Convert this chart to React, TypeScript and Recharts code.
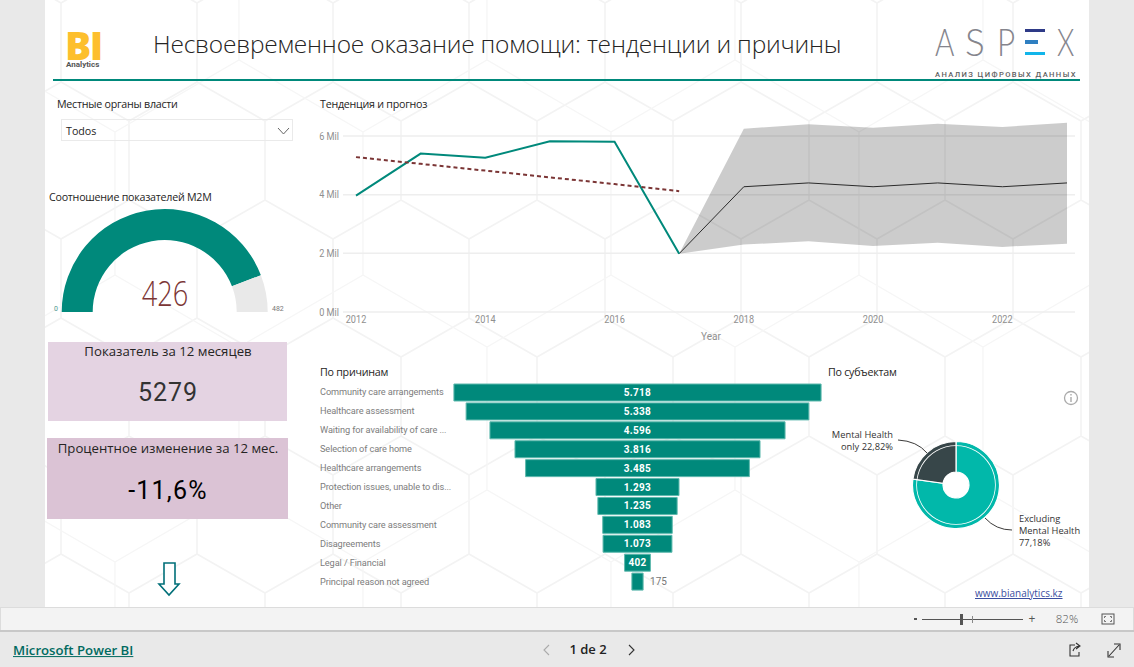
import React from "react"
import {
  Area,
  Bar,
  BarChart,
  CartesianGrid,
  Cell,
  ComposedChart,
  LabelList,
  Line,
  Pie,
  PieChart,
  XAxis,
  YAxis,
} from "recharts"

// trend chart, values in millions
const years = [2012, 2013, 2014, 2015, 2016, 2017, 2018, 2019, 2020, 2021, 2022, 2023]
const actual = [3.97, 5.4, 5.26, 5.82, 5.8, 1.99, null, null, null, null, null, null]
const trend = [5.28, 5.05, 4.82, 4.59, 4.36, 4.12, null, null, null, null, null, null]
const forecast = [null, null, null, null, null, 1.99, 4.27, 4.4, 4.27, 4.4, 4.27, 4.4]
const upper = [null, null, null, null, null, 1.99, 6.25, 6.4, 6.28, 6.42, 6.31, 6.45]
const lower = [null, null, null, null, null, 1.99, 2.3, 2.41, 2.25, 2.36, 2.22, 2.33]
const yearTicks = [2012, 2014, 2016, 2018, 2020, 2022]
const milTicks = [0, 2, 4, 6]

const trendData = years.map((year, i) => ({
  year,
  actual: actual[i],
  trend: trend[i],
  forecast: forecast[i],
  band: upper[i] === null ? null : [lower[i], upper[i]],
}))

// funnel
const reasons = [
  "Community care arrangements",
  "Healthcare assessment",
  "Waiting for availability of care ...",
  "Selection of care home",
  "Healthcare arrangements",
  "Protection issues, unable to dis...",
  "Other",
  "Community care assessment",
  "Disagreements",
  "Legal / Financial",
  "Principal reason not agreed",
]
const reasonValues = [5718, 5338, 4596, 3816, 3485, 1293, 1235, 1083, 1073, 402, 175]
const funnelData = reasons.map((name, i) => ({
  name,
  value: reasonValues[i],
  range: [-reasonValues[i] / 2, reasonValues[i] / 2],
}))

// donut
const subjects = ["Excluding Mental Health", "Mental Health only"]
const subjectShares = [77.18, 22.82]
const subjectColors = ["#01b8aa", "#374649"]
const donutData = subjects.map((name, i) => ({ name, value: subjectShares[i] }))
const ringData = [{ name: "ring", value: 1 }]

// gauge
const gaugeValue = 426
const gaugeMax = 482
const gaugeData = [
  { name: "value", value: gaugeValue },
  { name: "rest", value: gaugeMax - gaugeValue },
]

const TEAL = "#00897b"
const UI = "'Open Sans', sans-serif"
const TITLE = { size: 10.7, spacing: -0.25 }

function Txt(props: { x: number; y: number; size: number; color?: string; font?: string; weight?: number; align?: "left" | "center" | "right"; spacing?: number; children: React.ReactNode; underline?: boolean; squeeze?: number; leading?: number }) {
  const { x, y, size, color = "#252423", font = UI, weight = 400, align = "left", spacing = 0, children, underline, squeeze = 1, leading = 1.2 } = props
  const tx = align === "left" ? "0" : align === "center" ? "-50%" : "-100%"
  return (
    <div
      style={{
        position: "absolute",
        left: x,
        top: y,
        transform: `translate(${tx}, -50%) scaleX(${squeeze})`,
        transformOrigin: align === "left" ? "left center" : "center",
        fontSize: size,
        color,
        fontFamily: font,
        fontWeight: weight,
        letterSpacing: spacing,
        whiteSpace: "nowrap",
        lineHeight: leading,
        textDecoration: underline ? "underline" : "none",
      }}
    >
      {children}
    </div>
  )
}

function Box(props: { x: number; y: number; w: number; h: number; bg: string; border?: string }) {
  return (
    <div
      style={{
        position: "absolute",
        left: props.x,
        top: props.y,
        width: props.w,
        height: props.h,
        background: props.bg,
        border: props.border,
        boxSizing: "border-box",
      }}
    />
  )
}

// the report uses a condensed face for axis text, none is installed so Roboto gets squeezed
function AxisTick(props: any) {
  const { x, y, payload, anchor, dy, suffix = "" } = props
  return (
    <text transform={`translate(${x},${y}) scale(0.87,1)`} dy={dy} textAnchor={anchor} fontSize={10.5} fontFamily="Roboto" fill="#8f8f8f">
      {payload.value}{suffix}
    </text>
  )
}

function ReasonTick(props: any) {
  return (
    <text x={10} y={props.y} dy={3} fontSize={9.2} fontFamily="Roboto" fill="#7d7d7d" letterSpacing={-0.1}>
      {props.payload.value}
    </text>
  )
}

function FunnelLabel(props: any) {
  const { x, y, width, height, value } = props
  const cx = x + width / 2
  const cy = y + height / 2 + 3.5
  if (width < 20) {
    return (
      <text x={x + width + 7} y={cy} fontSize={10} fontFamily="Roboto" fill="#777">
        {value}
      </text>
    )
  }
  return (
    <text x={cx} y={cy} fontSize={10} fontFamily="Roboto" fontWeight={700} fill="#fff" textAnchor="middle" letterSpacing={0.3}>
      {value >= 1000 ? value.toLocaleString("de-DE") : value}
    </text>
  )
}

export default function App() {
  return (
    <div style={{ position: "fixed", left: 0, top: 0, width: 1134, height: 667, overflow: "hidden", background: "#e9e9e9" }}>
      {/* report canvas with the faint hexagon wallpaper */}
      <Box x={45} y={0} w={1044} h={607} bg="#fff" />
      <svg width={1044} height={607} style={{ position: "absolute", left: 45, top: 0 }}>
        <defs>
          <pattern id="hexA" width={136} height={236} patternUnits="userSpaceOnUse" x={16} y={-36}>
            <path d="M68 0 L136 39 V118 L68 157 L0 118 V39 Z M68 157 V236" fill="none" stroke="#f3f3f3" strokeWidth={1.6} />
          </pattern>
          <pattern id="hexB" width={248} height={430} patternUnits="userSpaceOnUse" x={70} y={60}>
            <path d="M124 0 L248 72 V215 L124 287 L0 215 V72 Z M124 287 V430" fill="none" stroke="#f6f6f6" strokeWidth={1.4} />
          </pattern>
        </defs>
        <rect width={1044} height={607} fill="url(#hexA)" />
        <rect width={1044} height={607} fill="url(#hexB)" />
      </svg>

      {/* header */}
      <Txt x={65} y={45} size={39} color="#fdbf2d" weight={800} spacing={-1.5} leading={0.72}>BI</Txt>
      <Txt x={66} y={65} size={8} color="#555" weight={700} font="Roboto" leading={1}>Analytics</Txt>
      <Txt x={153} y={44} size={24.5} weight={300} spacing={-0.2}>Несвоевременное оказание помощи: тенденции и причины</Txt>
      <Box x={53} y={79} w={1027} h={2} bg={TEAL} />
      <Txt x={935} y={42} size={37} font="Lato" weight={300} color="#85858d" squeeze={0.8}>A</Txt>
      <Txt x={965} y={42} size={37} font="Lato" weight={300} color="#85858d">S</Txt>
      <Txt x={997} y={42} size={37} font="Lato" weight={300} color="#85858d" squeeze={0.85}>P</Txt>
      <Box x={1025} y={29} w={20} h={3} bg="#2e3a87" />
      <Box x={1025} y={40} w={13} h={4} bg="#2f7fc1" />
      <Box x={1025} y={52} w={20} h={3} bg="#12b5ea" />
      <Txt x={1057} y={42} size={37} font="Lato" weight={300} color="#85858d" squeeze={0.75}>X</Txt>
      <Txt x={935} y={75} size={7.6} font="Roboto" weight={500} color="#5f5f5f" spacing={1.4}>АНАЛИЗ ЦИФРОВЫХ ДАННЫХ</Txt>

      {/* slicer */}
      <Txt x={57} y={104} {...TITLE}>Местные органы власти</Txt>
      <Box x={61} y={119} w={232} h={22} bg="transparent" border="1px solid #eaeaea" />
      <Txt x={66} y={131} size={10.7}>Todos</Txt>
      <svg width={14} height={8} style={{ position: "absolute", left: 277, top: 127 }}>
        <path d="M1 1 L6.5 7 L12 1" fill="none" stroke="#666" strokeWidth={1} />
      </svg>

      {/* gauge */}
      <Txt x={49} y={197} {...TITLE}>Соотношение показателей M2M</Txt>
      <div style={{ position: "absolute", left: 45, top: 200 }}>
        <PieChart width={240} height={125} margin={{ top: 0, right: 0, bottom: 0, left: 0 }}>
          <Pie data={gaugeData} dataKey="value" cx={119.7} cy={112} startAngle={180} endAngle={0} innerRadius={72} outerRadius={103} stroke="none" isAnimationActive={false}>
            <Cell fill={TEAL} />
            <Cell fill="#e9e9e9" />
          </Pie>
        </PieChart>
      </div>
      <Txt x={165} y={293} size={34} color="#7b3535" weight={300} align="center" squeeze={0.8}>{gaugeValue}</Txt>
      <Txt x={54} y={309} size={8} color="#4f9a90" font="Roboto" squeeze={0.87}>0</Txt>
      <Txt x={272} y={309} size={8} color="#777" font="Roboto" squeeze={0.87}>{gaugeMax}</Txt>

      {/* cards */}
      <Box x={48} y={342} w={239} h={79} bg="#e4d3e2" />
      <Txt x={168} y={352} size={13.2} align="center">Показатель за 12 месяцев</Txt>
      <Txt x={168} y={393} size={25} align="center" font="Roboto" color="#333" spacing={1}>5279</Txt>
      <Box x={47} y={438} w={241} h={81} bg="#dbc3d5" />
      <Txt x={168} y={449} size={13.2} align="center">Процентное изменение за 12 мес.</Txt>
      <Txt x={168} y={491} size={25} align="center" font="Roboto" color="#000" spacing={1.2}>-11,6%</Txt>
      <svg width={30} height={40} style={{ position: "absolute", left: 154, top: 560 }}>
        <path d="M10 3 H21 V24 H25 L15 35 L5 24 H10 Z" fill="#fff" stroke="#006f78" strokeWidth={1.6} />
      </svg>

      {/* trend and forecast */}
      <Txt x={320} y={104} {...TITLE}>Тенденция и прогноз</Txt>
      <div style={{ position: "absolute", left: 300, top: 90 }}>
        <ComposedChart width={790} height={260} data={trendData} margin={{ top: 16.67, right: 15, bottom: 0, left: 0 }}>
          <CartesianGrid horizontal vertical={false} horizontalValues={milTicks} stroke="#eeeeee" strokeWidth={1.5} />
          <XAxis
            dataKey="year"
            type="number"
            domain={[2012, 2023]}
            ticks={yearTicks}
            padding={{ left: 13, right: 8 }}
            axisLine={false}
            tickLine={false}
            tickSize={0}
            tickMargin={4}
            height={38}
            tick={<AxisTick anchor="middle" dy="0.71em" />}
            label={{ value: "Year", position: "insideBottom", offset: 10, dx: 2, fontSize: 10, fontFamily: "Roboto", fill: "#8f8f8f" }}
          />
          <YAxis
            domain={[0, 7]}
            ticks={milTicks}
            width={43}
            axisLine={false}
            tickLine={false}
            tickSize={0}
            tickMargin={4}
            tick={<AxisTick anchor="end" dy="0.36em" suffix=" Mil" />}
          />
          <Area dataKey="band" stroke="none" fill="#000000" fillOpacity={0.2} isAnimationActive={false} dot={false} activeDot={false} />
          <Line dataKey="forecast" stroke="#2b2b2b" strokeWidth={1} dot={false} isAnimationActive={false} />
          <Line dataKey="actual" stroke={TEAL} strokeWidth={2} dot={false} isAnimationActive={false} />
          <Line dataKey="trend" stroke="#7b3535" strokeWidth={2} strokeDasharray="4 3" dot={false} isAnimationActive={false} />
        </ComposedChart>
      </div>

      {/* funnel */}
      <Txt x={320} y={372} {...TITLE}>По причинам</Txt>
      <div style={{ position: "absolute", left: 310, top: 383.3 }}>
        <BarChart width={515} height={208} layout="vertical" data={funnelData} margin={{ top: 0, right: 0, bottom: 0, left: 0 }} barCategoryGap={1}>
          <XAxis type="number" hide domain={[-2920, 2920]} />
          <YAxis type="category" dataKey="name" width={140} axisLine={false} tickLine={false} interval={0} tick={<ReasonTick />} />
          <Bar dataKey="range" fill={TEAL} stroke="#5fb9ae" strokeWidth={1} isAnimationActive={false}>
            <LabelList dataKey="value" content={<FunnelLabel />} />
          </Bar>
        </BarChart>
      </div>

      {/* donut, the thin white ring is a third pie on top */}
      <Txt x={828} y={372} {...TITLE}>По субъектам</Txt>
      <div style={{ position: "absolute", left: 900, top: 430 }}>
        <PieChart width={112} height={110} margin={{ top: 0, right: 0, bottom: 0, left: 0 }}>
          <Pie data={donutData} dataKey="value" cx={56} cy={55} startAngle={90} endAngle={-270} innerRadius={13} outerRadius={43.5} stroke="#fff" strokeWidth={1.2} isAnimationActive={false}>
            {subjects.map((s, i) => <Cell key={s} fill={subjectColors[i]} />)}
          </Pie>
          <Pie data={ringData} dataKey="value" cx={56} cy={55} startAngle={90} endAngle={-270} innerRadius={39} outerRadius={39.8} fill="#fff" stroke="none" isAnimationActive={false} />
        </PieChart>
      </div>
      <svg width={1134} height={667} style={{ position: "absolute", left: 0, top: 0, pointerEvents: "none" }}>
        <path d="M898 440 Q917 441 927 453" fill="none" stroke="#252423" strokeWidth={0.9} />
        <path d="M985 518 Q996 530 1012 530" fill="none" stroke="#252423" strokeWidth={0.9} />
        <circle cx={1071} cy={398} r={6.5} fill="none" stroke="#aaa" strokeWidth={1.3} />
        <rect x={1070.3} y={397} width={1.4} height={5} fill="#aaa" />
        <rect x={1070.3} y={394} width={1.4} height={1.5} fill="#aaa" />
      </svg>
      <Txt x={893} y={435} size={9.3} align="right" color="#333">Mental Health</Txt>
      <Txt x={893} y={447} size={9.3} align="right" color="#333">only {subjectShares[1].toString().replace(".", ",")}%</Txt>
      <Txt x={1019} y={519} size={9.3} color="#333">Excluding</Txt>
      <Txt x={1019} y={531} size={9.3} color="#333">Mental Health</Txt>
      <Txt x={1019} y={543} size={9.3} color="#333">{subjectShares[0].toString().replace(".", ",")}%</Txt>
      <Txt x={975} y={593} size={10} color="#3b4ea0" underline>www.bianalytics.kz</Txt>

      {/* viewer chrome */}
      <Box x={0} y={607} w={1134} h={24} bg="#f3f3f3" border="1px solid #dcdcdc" />
      <Box x={0} y={630} w={1134} h={1.5} bg="#c8c8c8" />
      <Box x={914} y={618} w={3} h={2} bg="#555" />
      <Box x={922} y={619} w={101} h={1} bg="#555" />
      <Box x={960} y={614} w={3} h={11} bg="#555" />
      <Box x={972} y={616} w={1} h={7} bg="#888" />
      <Txt x={1032} y={619} size={12} align="center" color="#555">+</Txt>
      <Txt x={1067} y={619} size={11.5} align="center" color="#555" weight={300}>82%</Txt>
      <svg width={14} height={14} style={{ position: "absolute", left: 1101, top: 612 }}>
        <rect x={1} y={2} width={12} height={10} fill="none" stroke="#555" strokeWidth={1} />
        <path d="M3.5 6 V4.5 H5 M9 4.5 H10.5 V6 M3.5 8 V9.5 H5 M9 9.5 H10.5 V8" fill="none" stroke="#555" strokeWidth={0.8} />
      </svg>
      <Txt x={13} y={651} size={13.2} color="#006a60" weight={600} underline>Microsoft Power BI</Txt>
      <Txt x={588} y={650} size={13} color="#222" weight={600} align="center">1 de 2</Txt>
      <svg width={1134} height={40} style={{ position: "absolute", left: 0, top: 630 }}>
        <path d="M549 15 L544 20 L549 25" fill="none" stroke="#aaa" strokeWidth={1.1} />
        <path d="M629 15 L634 20 L629 25" fill="none" stroke="#333" strokeWidth={1.1} />
        <path d="M1075 15 H1070 V26 H1079 V22 M1073 21 Q1074 17 1079 16 M1076 13 L1080 16 L1076 19" fill="none" stroke="#333" strokeWidth={1.1} />
        <path d="M1109 26 L1119 15 M1114 14 H1120 V20 M1108 21 V27 H1114" fill="none" stroke="#333" strokeWidth={1.1} />
      </svg>
    </div>
  )
}
